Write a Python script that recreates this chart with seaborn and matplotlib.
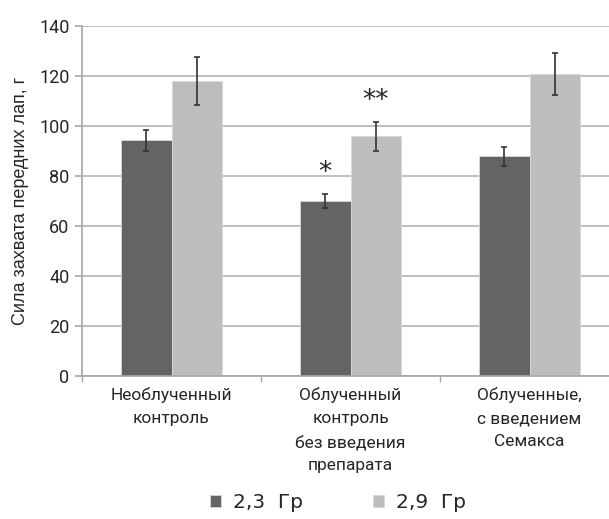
import matplotlib
matplotlib.use("Agg")
import matplotlib.pyplot as plt
from matplotlib.ticker import FixedLocator
import seaborn as sns
import pandas as pd

groups = ["Необлученный\nконтроль",
          "Облученный\nконтроль\nбез введения\nпрепарата",
          "Облученные,\nс введением\nСемакса"]
doses = ["2,3  Гр", "2,9  Гр"]
values_23 = [94.3, 70.1, 87.9]
values_29 = [118.1, 95.9, 120.7]
err_23 = [4.1, 2.7, 3.7]
err_29 = [9.7, 5.8, 8.4]
marks_23 = ["", "*", ""]
marks_29 = ["", "**", ""]

df = pd.DataFrame({
    "group": groups * 2,
    "dose": [doses[0]] * 3 + [doses[1]] * 3,
    "value": values_23 + values_29,
})

sns.set_theme(style="white")
plt.rcParams["font.family"] = ["Roboto", "DejaVu Sans"]
text_color = "#262626"

fig = plt.figure(figsize=(6.09, 5.19), dpi=100)
ax = fig.add_axes([82 / 609, 143 / 519, (619 - 82) / 609, 350 / 519])

sns.barplot(data=df, x="group", y="value", hue="dose", order=groups,
            hue_order=doses, palette=["#656364", "#bebcbd"],
            width=0.565, errorbar=None, saturation=1, legend=True,
            edgecolor="#d8d8d8", linewidth=0.6, ax=ax)

# error bars and significance marks placed on the drawn bars
bars = ax.patches[:6]
errs = err_23 + err_29
marks = marks_23 + marks_29
for bar, e, m in zip(bars, errs, marks):
    cx = bar.get_x() + bar.get_width() / 2
    h = bar.get_height()
    ax.errorbar(cx, h, yerr=e, fmt="none", ecolor="#333333",
                elinewidth=1.2, capsize=2.5, capthick=1.2, zorder=5)
    if m:
        ax.text(cx, h + e + 3.0, m, ha="center", va="bottom",
                fontsize=19, color=text_color,
                family=["DejaVu Sans"])

ax.set_ylim(0, 140)
ax.set_xlim(-0.5, 2.5)
ax.set_yticks(range(0, 141, 20))
ax.yaxis.grid(True, color="#b4b4b4", linewidth=1.2)
ax.set_axisbelow(True)

for s in ["top", "right"]:
    ax.spines[s].set_visible(False)
for s in ["left", "bottom"]:
    ax.spines[s].set_color("#a6a6a6")
    ax.spines[s].set_linewidth(1.2)

ax.tick_params(axis="y", length=5, width=1.2, color="#a6a6a6",
               labelsize=13, labelcolor=text_color, pad=4, left=True)
ax.tick_params(axis="x", which="major", length=0, labelsize=12.5,
               labelcolor=text_color, pad=8)
ax.xaxis.set_minor_locator(FixedLocator([-0.5, 0.5, 1.5]))
ax.tick_params(axis="x", which="minor", length=4, width=1,
               color="#a6a6a6", bottom=True)
for lbl in ax.get_xticklabels():
    lbl.set_linespacing(1.68)
    lbl.set_verticalalignment("top")

ax.set_xlabel("")
ax.set_ylabel("Сила захвата передних лап, г", fontsize=13,
              color=text_color, labelpad=7,
              family=["Liberation Sans", "DejaVu Sans"])

handles, labels = ax.get_legend_handles_labels()
ax.get_legend().remove()
fig.legend(handles, labels, loc="center", bbox_to_anchor=(338 / 609, 1 - 503 / 519),
           ncol=2, frameon=False, handlelength=0.55,
           handleheight=0.55, handletextpad=0.6, columnspacing=3.5,
           labelcolor=text_color,
           prop={"family": ["DejaVu Sans"], "size": 14.5})

fig.savefig("out.png", dpi=100)
